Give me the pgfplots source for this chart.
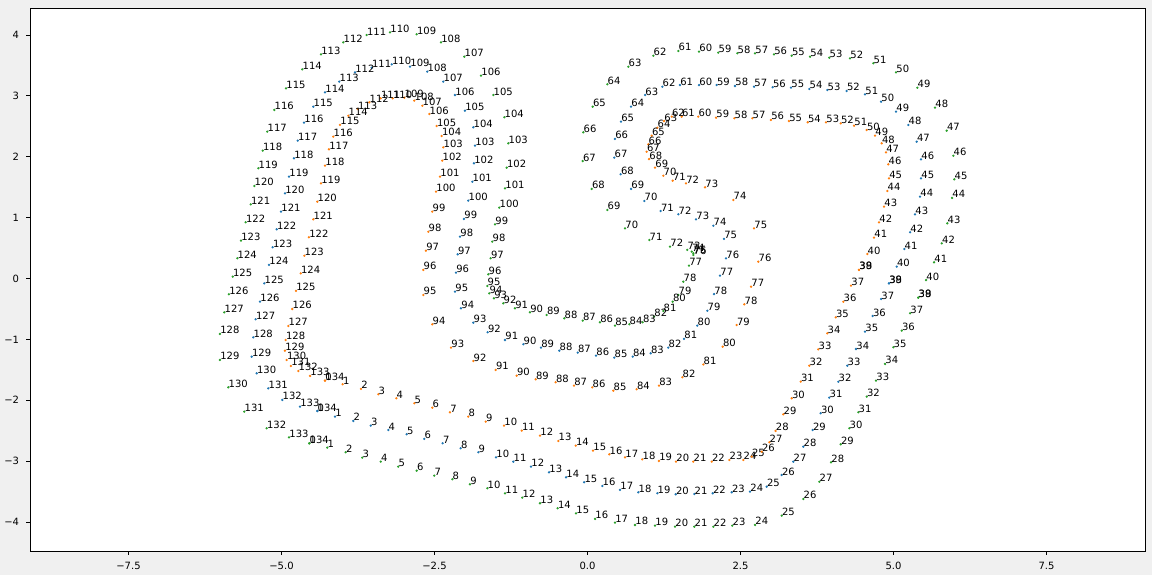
\documentclass[border=0pt]{standalone}
\usepackage{fontspec}
\setmainfont{DejaVu Sans}
\usepackage{pgfplots}
\usepackage{pgfplotstable}
\pgfplotsset{compat=1.18}
\definecolor{cblue}{HTML}{1F77B4}
\definecolor{corange}{HTML}{FF7F0E}
\definecolor{cgreen}{HTML}{2CA02C}
\definecolor{figbg}{HTML}{F0F0F0}

\pgfplotstableread{
x y
-4.289 -1.678
-4.000 -1.737
-3.701 -1.814
-3.418 -1.901
-3.124 -1.967
-2.830 -2.049
-2.536 -2.122
-2.247 -2.197
-1.948 -2.269
-1.663 -2.351
-1.364 -2.417
-1.075 -2.499
-0.776 -2.581
-0.477 -2.668
-0.193 -2.745
0.090 -2.828
0.356 -2.887
0.613 -2.936
0.895 -2.969
1.168 -2.997
1.446 -3.008
1.729 -3.008
2.029 -3.008
2.317 -2.980
2.546 -2.980
2.683 -2.926
2.846 -2.844
2.971 -2.690
3.072 -2.504
3.199 -2.230
3.337 -1.967
3.484 -1.695
3.624 -1.432
3.771 -1.163
3.918 -0.900
4.056 -0.637
4.180 -0.381
4.306 -0.118
4.436 0.140
4.436 0.140
4.572 0.402
4.681 0.670
4.763 0.923
4.845 1.179
4.899 1.437
4.926 1.645
4.915 1.875
4.877 2.072
4.807 2.220
4.698 2.345
4.562 2.438
4.355 2.509
4.137 2.548
3.897 2.565
3.598 2.565
3.292 2.586
2.998 2.603
2.693 2.631
2.399 2.631
2.100 2.640
1.810 2.657
1.539 2.657
1.376 2.657
1.250 2.586
1.141 2.476
1.049 2.345
0.993 2.204
0.967 2.082
1.005 1.962
1.103 1.819
1.239 1.688
1.392 1.606
1.609 1.563
1.920 1.498
2.382 1.289
2.721 0.824
2.791 0.276
2.672 -0.135
2.562 -0.424
2.438 -0.764
2.209 -1.120
1.892 -1.412
1.549 -1.622
1.168 -1.760
0.804 -1.819
0.422 -1.842
0.078 -1.787
-0.221 -1.760
-0.520 -1.704
-0.846 -1.655
-1.157 -1.596
-1.500 -1.502
-1.866 -1.355
-2.230 -1.136
-2.536 -0.752
-2.683 -0.271
-2.683 0.140
-2.639 0.456
-2.601 0.768
-2.536 1.097
-2.475 1.425
-2.410 1.672
-2.373 1.934
-2.356 2.154
-2.382 2.340
-2.464 2.504
-2.585 2.701
-2.699 2.837
-2.830 2.920
-2.993 2.969
-3.183 2.959
-3.379 2.959
-3.565 2.893
-3.755 2.783
-3.908 2.673
-4.044 2.521
-4.154 2.328
-4.224 2.122
-4.289 1.852
-4.355 1.563
-4.415 1.261
-4.480 0.972
-4.551 0.677
-4.627 0.374
-4.686 0.085
-4.763 -0.205
-4.824 -0.501
-4.889 -0.780
-4.931 -1.010
-4.943 -1.186
-4.915 -1.338
-4.845 -1.437
-4.725 -1.519
-4.534 -1.601
-4.289 -1.678
}\orangedata

\pgfplotstableread{
x y
-4.415 -2.176
-4.126 -2.269
-3.827 -2.340
-3.542 -2.417
-3.255 -2.488
-2.954 -2.558
-2.667 -2.635
-2.366 -2.706
-2.072 -2.788
-1.784 -2.854
-1.495 -2.936
-1.212 -3.008
-0.923 -3.090
-0.629 -3.182
-0.351 -3.264
-0.054 -3.346
0.242 -3.407
0.531 -3.473
0.830 -3.511
1.141 -3.527
1.441 -3.544
1.745 -3.539
2.046 -3.527
2.356 -3.511
2.655 -3.501
2.928 -3.419
3.173 -3.227
3.363 -3.008
3.526 -2.762
3.680 -2.488
3.810 -2.213
3.951 -1.957
4.098 -1.695
4.245 -1.432
4.387 -1.158
4.534 -0.874
4.660 -0.616
4.796 -0.337
4.926 -0.079
4.926 -0.079
5.052 0.194
5.176 0.484
5.270 0.759
5.351 1.054
5.433 1.343
5.449 1.645
5.449 1.957
5.379 2.246
5.242 2.521
5.041 2.739
4.796 2.903
4.534 3.025
4.235 3.079
3.918 3.095
3.624 3.112
3.325 3.133
3.026 3.140
2.721 3.149
2.410 3.161
2.111 3.177
1.822 3.177
1.511 3.177
1.222 3.149
0.940 3.013
0.711 2.821
0.547 2.575
0.449 2.291
0.438 1.984
0.542 1.711
0.711 1.470
0.928 1.273
1.196 1.108
1.484 1.054
1.773 0.972
2.056 0.867
2.230 0.649
2.263 0.332
2.165 0.046
2.067 -0.255
1.958 -0.529
1.794 -0.775
1.577 -0.993
1.320 -1.136
1.033 -1.228
0.739 -1.284
0.438 -1.300
0.139 -1.268
-0.160 -1.218
-0.461 -1.186
-0.760 -1.136
-1.049 -1.080
-1.348 -1.010
-1.631 -0.883
-1.866 -0.726
-2.067 -0.489
-2.165 -0.217
-2.149 0.095
-2.121 0.397
-2.083 0.686
-2.018 0.977
-1.948 1.278
-1.882 1.589
-1.855 1.892
-1.838 2.181
-1.866 2.483
-2.002 2.755
-2.165 3.013
-2.356 3.232
-2.618 3.396
-2.900 3.478
-3.199 3.517
-3.526 3.461
-3.799 3.386
-4.056 3.232
-4.289 3.057
-4.480 2.821
-4.632 2.558
-4.735 2.263
-4.796 1.974
-4.877 1.672
-4.943 1.399
-5.008 1.097
-5.078 0.808
-5.144 0.512
-5.204 0.222
-5.281 -0.079
-5.351 -0.381
-5.422 -0.670
-5.461 -0.966
-5.487 -1.284
-5.405 -1.557
-5.216 -1.803
-4.987 -1.995
-4.698 -2.105
-4.415 -2.176
}\bluedata

\pgfplotstableread{
x y
-4.546 -2.706
-4.252 -2.778
-3.951 -2.854
-3.680 -2.943
-3.379 -3.008
-3.092 -3.090
-2.791 -3.156
-2.503 -3.238
-2.209 -3.297
-1.920 -3.379
-1.637 -3.445
-1.348 -3.527
-1.065 -3.599
-0.776 -3.691
-0.487 -3.773
-0.188 -3.856
0.123 -3.949
0.449 -4.010
0.776 -4.048
1.103 -4.059
1.430 -4.076
1.745 -4.076
2.056 -4.076
2.366 -4.059
2.737 -4.048
3.173 -3.895
3.526 -3.621
3.788 -3.337
3.979 -3.018
4.137 -2.723
4.278 -2.460
4.425 -2.197
4.562 -1.941
4.714 -1.678
4.861 -1.404
4.997 -1.130
5.134 -0.857
5.270 -0.571
5.405 -0.315
5.405 -0.315
5.531 -0.025
5.662 0.266
5.788 0.578
5.879 0.906
5.956 1.322
5.993 1.629
5.977 2.016
5.869 2.427
5.678 2.805
5.389 3.133
5.041 3.386
4.670 3.534
4.289 3.616
3.951 3.626
3.636 3.642
3.337 3.658
3.047 3.681
2.737 3.698
2.448 3.698
2.137 3.708
1.822 3.724
1.484 3.736
1.075 3.658
0.667 3.478
0.324 3.189
0.085 2.821
-0.069 2.401
-0.078 1.929
0.069 1.470
0.324 1.125
0.613 0.824
1.010 0.632
1.348 0.522
1.631 0.470
1.703 0.440
1.729 0.414
1.729 0.386
1.658 0.210
1.565 -0.053
1.484 -0.271
1.392 -0.381
1.239 -0.534
1.087 -0.627
0.902 -0.719
0.683 -0.752
0.449 -0.775
0.204 -0.719
-0.078 -0.693
-0.379 -0.654
-0.667 -0.599
-0.940 -0.555
-1.185 -0.489
-1.376 -0.407
-1.528 -0.325
-1.605 -0.243
-1.637 -0.123
-1.621 0.069
-1.582 0.332
-1.556 0.604
-1.511 0.890
-1.441 1.163
-1.348 1.481
-1.320 1.819
-1.294 2.220
-1.359 2.647
-1.539 3.013
-1.740 3.330
-2.013 3.642
-2.394 3.878
-2.791 4.010
-3.227 4.043
-3.608 3.998
-3.990 3.878
-4.355 3.681
-4.660 3.435
-4.926 3.123
-5.118 2.767
-5.232 2.411
-5.307 2.099
-5.379 1.810
-5.444 1.519
-5.503 1.218
-5.585 0.923
-5.662 0.621
-5.722 0.332
-5.797 0.030
-5.858 -0.259
-5.935 -0.555
-6.005 -0.911
-6.005 -1.338
-5.869 -1.787
-5.608 -2.187
-5.242 -2.460
-4.877 -2.608
-4.546 -2.706
}\greendata

\pgfplotstablecreatecol[create col/assign/.code={\pgfmathtruncatemacro\entry{\pgfplotstablerow}\pgfkeyslet{/pgfplots/table/create col/next content}\entry}]{l}\orangedata
\pgfplotstablecreatecol[create col/assign/.code={\pgfmathtruncatemacro\entry{\pgfplotstablerow}\pgfkeyslet{/pgfplots/table/create col/next content}\entry}]{l}\bluedata
\pgfplotstablecreatecol[create col/assign/.code={\pgfmathtruncatemacro\entry{\pgfplotstablerow}\pgfkeyslet{/pgfplots/table/create col/next content}\entry}]{l}\greendata

\begin{document}
\begin{tikzpicture}
\fill[figbg] (0,0) rectangle (576bp,287.5bp);
\begin{axis}[
  at={(15bp,12bp)}, anchor=south west,
  scale only axis, width=557.5bp, height=271.5bp,
  xmin=-9.109, xmax=9.109, ymin=-4.475, ymax=4.442,
  axis background/.style={fill=white},
  axis line style={line width=0.4bp},
  tick style={line width=0.4bp, black},
  tick align=outside, major tick length=1.75bp,
  xtick={-7.5,-5,-2.5,0,2.5,5,7.5},
  xticklabels={−7.5,−5.0,−2.5,0.0,2.5,5.0,7.5},
  ytick={-4,-3,-2,-1,0,1,2,3,4},
  yticklabels={−4,−3,−2,−1,0,1,2,3,4},
  xtick pos=bottom, ytick pos=left,
  tick label style={font=\fontsize{5bp}{6bp}\selectfont},
  xticklabel style={anchor=north, inner sep=0pt, yshift=-3.5bp},
  yticklabel style={anchor=east, inner sep=0pt, xshift=-3.5bp},
  clip=false,
  point meta=explicit symbolic,
  nodes near coords={\pgfplotspointmeta},
  every node near coord/.append style={anchor=base west, inner sep=0pt, text=black, font=\fontsize{5bp}{6bp}\selectfont},
]
\addplot[only marks, mark=*, mark size=0.35bp, cblue, mark options={draw=none, fill=cblue}] table[x=x,y=y,meta=l] {\bluedata};
\addplot[only marks, mark=*, mark size=0.35bp, corange, mark options={draw=none, fill=corange}] table[x=x,y=y,meta=l] {\orangedata};
\addplot[only marks, mark=*, mark size=0.35bp, cgreen, mark options={draw=none, fill=cgreen}] table[x=x,y=y,meta=l] {\greendata};
\end{axis}
\end{tikzpicture}
\end{document}
